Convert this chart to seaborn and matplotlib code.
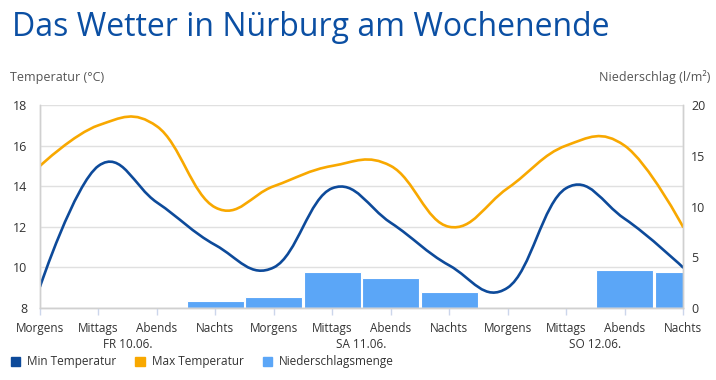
import numpy as np
import pandas as pd
import seaborn as sns
import matplotlib.pyplot as plt
from matplotlib.path import Path
from matplotlib.patches import PathPatch, Patch

# chart data
slots = ["Morgens", "Mittags", "Abends", "Nachts"] * 3
days = ["FR 10.06.", "SA 11.06.", "SO 12.06."]
min_temp = [9.05, 15.0, 13.2, 11.1, 10.0, 13.9, 12.2, 10.1, 9.0, 13.9, 12.4, 10.0]
max_temp = [15.0, 17.0, 16.95, 12.95, 14.0, 15.0, 15.0, 12.0, 13.9, 16.0, 16.0, 12.0]
rain = [0, 0, 0, 0.7, 1.1, 3.5, 3.0, 1.6, 0, 0, 3.7, 3.5]
temp_ticks = [8, 10, 12, 14, 16, 18]
rain_ticks = [0, 5, 10, 15, 20]

MIN_COL = "#0d4a9a"
MAX_COL = "#f8a800"
BAR_COL = "#5ba6f7"
TXT = "#333333"
GRID = "#e0e0e0"


# Builds a smooth bezier path through the points (spline series look)
def spline_path(xs, ys, smoothing=1.5):
    denom = smoothing + 1
    n = len(xs)
    verts = [(xs[0], ys[0])]
    codes = [Path.MOVETO]
    right_prev = (xs[0], ys[0])
    for i in range(1, n):
        x, y = xs[i], ys[i]
        lx, ly = xs[i - 1], ys[i - 1]
        if i < n - 1:
            nx, ny = xs[i + 1], ys[i + 1]
            lcx = (smoothing * x + lx) / denom
            lcy = (smoothing * y + ly) / denom
            rcx = (smoothing * x + nx) / denom
            rcy = (smoothing * y + ny) / denom
            # keep the tangent through the point parallel to its neighbours
            corr = (rcy - lcy) * (rcx - x) / (rcx - lcx) + y - rcy
            left = (lcx, lcy + corr)
            right = (rcx, rcy + corr)
        else:
            left = (x, y)
            right = (x, y)
        verts += [right_prev, left, (x, y)]
        codes += [Path.CURVE4] * 3
        right_prev = right
    return Path(verts, codes)


sns.set_theme(style="white")
plt.rcParams["font.family"] = ["Open Sans", "DejaVu Sans"]

fig = plt.figure(figsize=(7.16, 3.80), dpi=100)
ax = fig.add_axes([40 / 716, 1 - 308 / 380, 643 / 716, 203 / 380])
ax2 = ax.twinx()

df = pd.DataFrame({"pos": range(len(slots)), "rain": rain})

# precipitation bars on the right axis
sns.barplot(data=df, x="pos", y="rain", ax=ax2, color=BAR_COL, width=0.975,
            saturation=1, edgecolor="white", linewidth=0.8, native_scale=True)
ax2.set_ylim(0, 20)
ax2.set_yticks(rain_ticks)
ax2.set_ylabel("")
ax2.set_xlabel("")

# temperature lines on the left axis, drawn above the bars
ax.set_zorder(ax2.get_zorder() + 1)
ax.patch.set_visible(False)
xs = list(range(len(slots)))
ax.add_patch(PathPatch(spline_path(xs, min_temp), fill=False, edgecolor=MIN_COL,
                       linewidth=1.9, capstyle="round", joinstyle="round"))
ax.add_patch(PathPatch(spline_path(xs, max_temp), fill=False, edgecolor=MAX_COL,
                       linewidth=1.9, capstyle="round", joinstyle="round"))
ax.set_ylim(8, 18)
ax.set_yticks(temp_ticks)
ax.set_xlim(0, 11)
ax2.set_xlim(0, 11)
ax.yaxis.grid(True, color=GRID, linewidth=1)
ax.set_axisbelow(True)

ax.set_xticks(xs)
ax.set_xticklabels(slots)
ax.tick_params(axis="x", length=5, width=1, color="#ccd6eb", colors=TXT,
               labelsize=8.5, pad=5, direction="out", bottom=True)
ax.tick_params(axis="y", length=0, colors=TXT, labelsize=9, pad=9)
ax2.tick_params(axis="y", length=0, colors=TXT, labelsize=9, pad=6)
ax2.tick_params(axis="x", bottom=False, labelbottom=False)

for a in (ax, ax2):
    a.spines["top"].set_visible(False)
    for side in ["left", "right", "bottom"]:
        a.spines[side].set_color("#d0d0d0")
        a.spines[side].set_linewidth(1)

# day labels under the slot labels
for i, d in enumerate(days):
    ax.text(1.5 + 4 * i, -0.148, d, transform=ax.get_xaxis_transform(),
            ha="center", va="top", fontsize=8.5, color=TXT)

fig.text(12 / 716, 1 - 36 / 380, "Das Wetter in Nürburg am Wochenende",
         fontsize=23, color="#0b4fa3", va="baseline", ha="left")
fig.text(10 / 716, 1 - 77 / 380, "Temperatur (°C)", fontsize=9, color="#555555",
         va="center", ha="left")
fig.text(710 / 716, 1 - 77 / 380, "Niederschlag (l/m²)", fontsize=9,
         color="#555555", va="center", ha="right")

handles = [Patch(color=MIN_COL, label="Min Temperatur"),
           Patch(color=MAX_COL, label="Max Temperatur"),
           Patch(color=BAR_COL, label="Niederschlagsmenge")]
fig.legend(handles=handles, loc="center left", bbox_to_anchor=(0 / 716, 1 - 362 / 380),
           ncol=3, frameon=False, fontsize=8.5, handlelength=0.8, handleheight=0.8,
           handletextpad=0.6, columnspacing=1.6, labelcolor=TXT)

fig.savefig("out.png", dpi=100)
